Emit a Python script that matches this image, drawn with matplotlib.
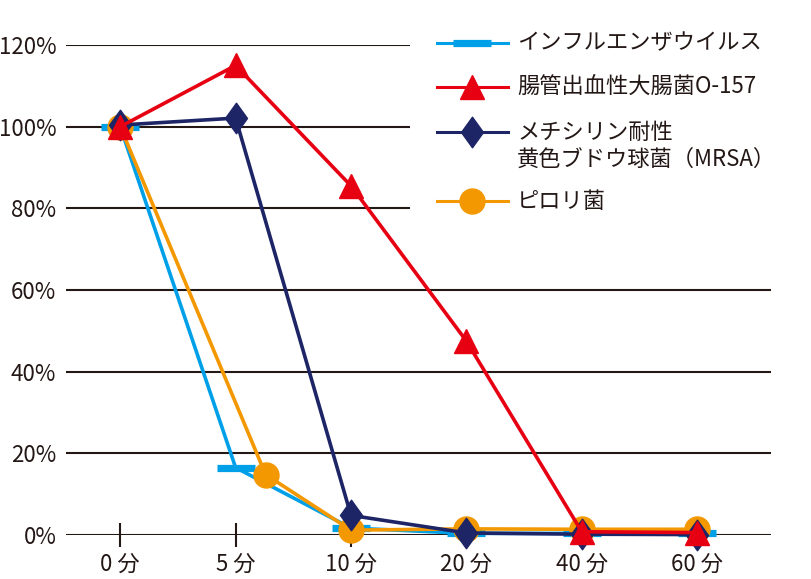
"""Virus / bacteria reduction over time, redrawn with matplotlib."""

import matplotlib

matplotlib.use("Agg")
import matplotlib.pyplot as plt
from matplotlib.path import Path

plt.rcParams["font.family"] = ["Noto Sans CJK JP", "DejaVu Sans"]

TIME_LABELS = ["0 分", "5 分", "10 分", "20 分", "40 分", "60 分"]
Y_TICKS = [0.0, 0.2, 0.4, 0.6, 0.8, 1.0, 1.2]
Y_TICK_LABELS = ["0%", "20%", "40%", "60%", "80%", "100%", "120%"]

# x positions are category indices; the pylori 5-minute point sits a bit late
INFLUENZA_X = [0, 1, 2, 3, 4, 5]
INFLUENZA = [1.0, 0.165, 0.017, 0.004, 0.004, 0.005]

O157_X = [0, 1, 2, 3, 4, 5]
O157 = [1.0, 1.15, 0.855, 0.475, 0.008, 0.006]

MRSA_X = [0, 1, 2, 3, 4, 5]
MRSA = [1.004, 1.021, 0.048, 0.005, 0.002, 0.001]

PYLORI_X = [0, 1.26, 2, 3, 4, 5]
PYLORI = [1.0, 0.148, 0.012, 0.015, 0.014, 0.014]

LEGEND_LABELS = [
    "インフルエンザウイルス",
    "腸管出血性大腸菌O-157",
    "メチシリン耐性\n黄色ブドウ球菌（MRSA）",
    "ピロリ菌",
]

BLUE = "#00a0e9"
RED = "#e60012"
NAVY = "#1d2566"
ORANGE = "#f39800"
INK = "#231815"

TALL_DIAMOND = Path([(0, 1), (0.72, 0), (0, -1), (-0.72, 0), (0, 1)],
                    [Path.MOVETO, Path.LINETO, Path.LINETO, Path.LINETO, Path.CLOSEPOLY])

STYLES = [
    dict(color=BLUE, marker="_", markersize=27, markeredgewidth=5.2),
    dict(color=RED, marker="^", markersize=17),
    dict(color=NAVY, marker=TALL_DIAMOND, markersize=22),
    dict(color=ORANGE, marker="o", markersize=18),
]


def main() -> None:
    W, H = 812, 579
    fig = plt.figure(figsize=(W / 100, H / 100), dpi=100)
    ax = fig.add_axes([66 / W, (H - 535) / H, (771 - 66) / W, 490 / H])

    series = [
        (INFLUENZA_X, INFLUENZA, STYLES[0], 2),
        (PYLORI_X, PYLORI, STYLES[3], 3),
        (MRSA_X, MRSA, STYLES[2], 4),
        (O157_X, O157, STYLES[1], 5),
    ]
    for xs, ys, style, z in series:
        ax.plot(xs, ys, linewidth=2.6, zorder=z, clip_on=False, **style)

    ax.set_xlim(-0.47, 5.64)
    ax.set_ylim(0, 1.2)
    ax.set_xticks(range(len(TIME_LABELS)))
    ax.set_xticklabels(TIME_LABELS, fontsize=16, color=INK)
    ax.set_yticks(Y_TICKS)
    ax.set_yticklabels(Y_TICK_LABELS, fontsize=16, color=INK)
    ax.tick_params(axis="x", direction="inout", length=17, width=1.5, color=INK, pad=4)
    ax.tick_params(axis="y", length=0, pad=7)
    ax.yaxis.grid(True, color=INK, linewidth=1.5)
    ax.set_axisbelow(True)
    for spine in ax.spines.values():
        spine.set_visible(False)

    # legend drawn in its own white panel, in pixel units
    lax = fig.add_axes([410 / W, (H - 228) / H, (W - 410) / W, 208 / H])
    lax.set_xlim(0, W - 410)
    lax.set_ylim(208, 0)
    lax.set_facecolor("white")
    lax.set_xticks([])
    lax.set_yticks([])
    for spine in lax.spines.values():
        spine.set_visible(False)

    rows = [23, 67, 112, 181]
    for row_y, label, style in zip(rows, LEGEND_LABELS, STYLES):
        lax.plot([27, 98], [row_y, row_y], color=style["color"], linewidth=2.2)
        lax.plot([62], [row_y], linestyle="none", **style)
        for i, line in enumerate(label.split("\n")):
            lax.text(107, row_y + i * 27, line, fontsize=16, color=INK,
                     va="center", ha="left")

    fig.savefig("out.png", dpi=100, facecolor="white")
    plt.close(fig)


if __name__ == "__main__":
    main()
